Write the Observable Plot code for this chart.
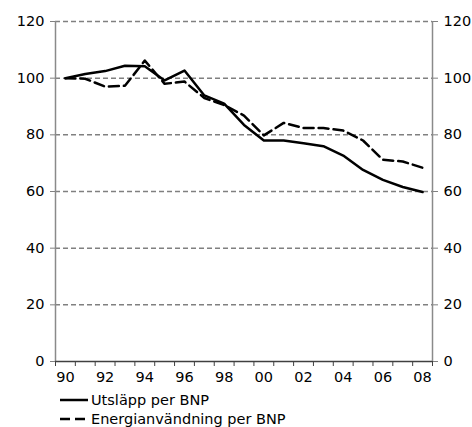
<!DOCTYPE html>
<html><head><meta charset="utf-8">
<script src="https://cdn.jsdelivr.net/npm/d3@7"></script>
<script src="https://cdn.jsdelivr.net/npm/@observablehq/plot@0.6"></script>
<style>
body{margin:0;background:#fff;font-family:"DejaVu Sans",Verdana,sans-serif;}
#legend{padding-top:6px;padding-left:60px;font-size:14.5px;color:#000;}
.row{display:flex;align-items:center;height:18.5px;line-height:18.5px;}
.row svg{width:28px;height:10px;margin-right:3px;flex:none;}
</style></head><body>
<div id="chart"></div>
<div id="legend"></div>
<script>
const years = [1990,1991,1992,1993,1994,1995,1996,1997,1998,1999,2000,2001,2002,2003,2004,2005,2006,2007,2008];
const utslapp = [100,101.5,102.5,104.4,104.2,99.2,102.7,93.9,91,83.5,78,78,77,76,72.7,67.6,64.1,61.6,59.8];
const energi  = [100,99.8,97,97.3,106.2,98,98.8,93,90.5,86.8,79.8,84.2,82.4,82.4,81.5,78,71.2,70.6,68.4];
const seriesNames = ["Utsläpp per BNP","Energianvändning per BNP"];
const seriesDash = [null,"10,5"];
const yTicks = [0,20,40,60,80,100,120];
const xLabelYears = [1990,1992,1994,1996,1998,2000,2002,2004,2006,2008];
const xBoundaries = [1989.5,1990.5,1991.5,1992.5,1993.5,1994.5,1995.5,1996.5,1997.5,1998.5,1999.5,2000.5,2001.5,2002.5,2003.5,2004.5,2005.5,2006.5,2007.5,2008.5];

const data = years.flatMap((yr,i)=>[
  {year:yr, value:utslapp[i], s:seriesNames[0]},
  {year:yr, value:energi[i], s:seriesNames[1]}
]);

const chart = Plot.plot({
  width:472, height:385,
  marginTop:21, marginLeft:55, marginRight:40, marginBottom:24,
  x:{domain:[1989.5,2008.5]},
  y:{domain:[0,120]},
  style:{fontFamily:"'DejaVu Sans', Verdana, sans-serif", fontSize:"14.5px", color:"#000", background:"#fff"},
  marks:[
    Plot.gridY(yTicks.filter(d=>d>0), {stroke:"#808080", strokeOpacity:1, strokeDasharray:"5,3", strokeWidth:1.5}),
    Plot.ruleX([1989.5,2008.5], {stroke:"#8a8a8a", strokeWidth:1.5}),
    Plot.axisY(yTicks, {anchor:"left", tickSize:5, tickPadding:6, stroke:"#808080", fill:"#000", label:null}),
    Plot.axisY(yTicks, {anchor:"right", tickSize:5, tickPadding:6, stroke:"#808080", fill:"#000", label:null}),
    Plot.axisX(xBoundaries, {anchor:"bottom", tickSize:5, stroke:"#404040", tickFormat:()=>"", label:null}),
    Plot.axisX(xLabelYears, {anchor:"bottom", tickSize:0, tickPadding:10, fill:"#000", tickFormat:d=>String(d%100).padStart(2,"0"), label:null}),
    Plot.ruleY([0], {stroke:"#404040", strokeWidth:1.5}),
    Plot.lineY(data.filter(d=>d.s===seriesNames[0]), {x:"year", y:"value", stroke:"#000", strokeWidth:2.5}),
    Plot.lineY(data.filter(d=>d.s===seriesNames[1]), {x:"year", y:"value", stroke:"#000", strokeWidth:2.5, strokeDasharray:seriesDash[1]})
  ]
});
document.getElementById("chart").appendChild(chart);

const legend = document.getElementById("legend");
seriesNames.forEach((name,i)=>{
  const row = document.createElement("div");
  row.className = "row";
  row.innerHTML = `<svg viewBox="0 0 28 10"><line x1="0" y1="5" x2="28" y2="5" stroke="#000" stroke-width="2.5" ${seriesDash[i]?`stroke-dasharray="${seriesDash[i]}"`:""}/></svg><span>${name}</span>`;
  legend.appendChild(row);
});
</script>
</body></html>
